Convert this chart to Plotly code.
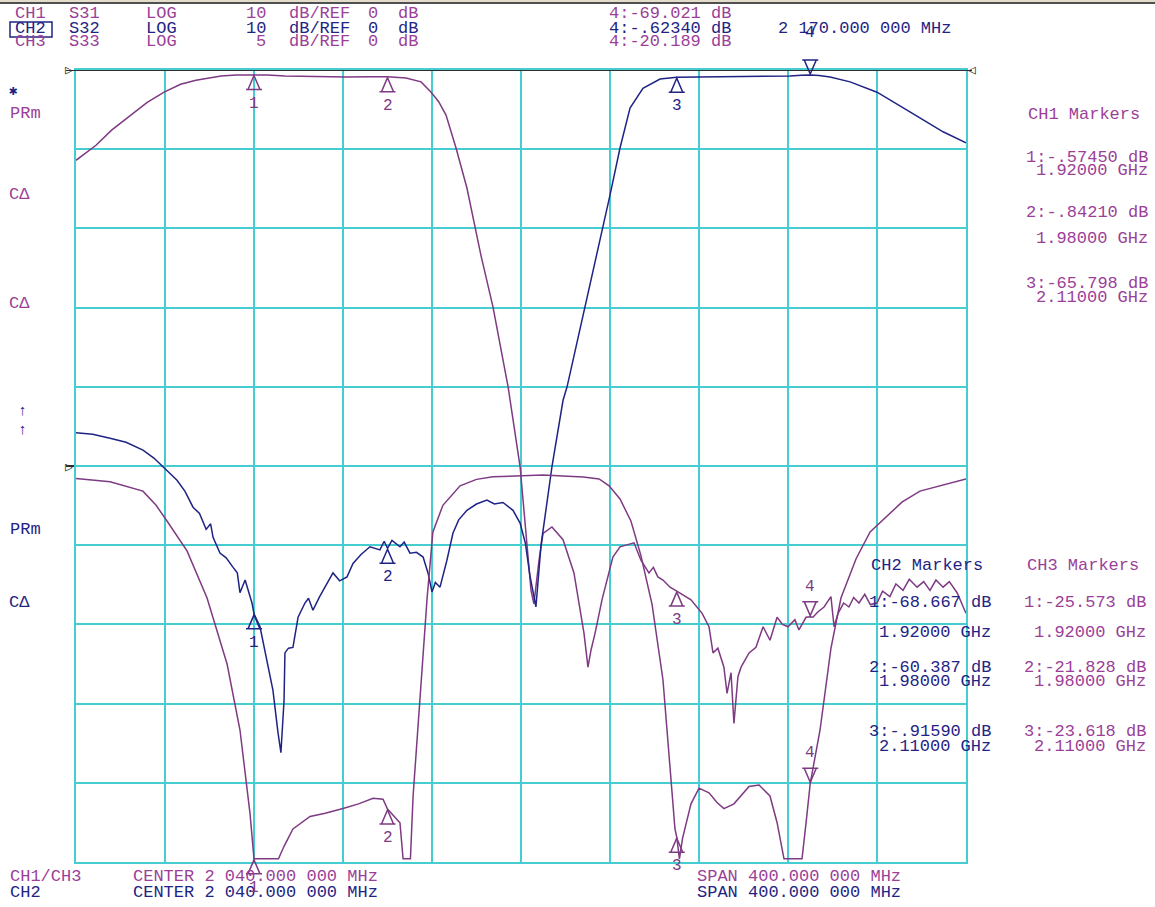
import plotly.graph_objects as go

# ---------------------------------------------------------------------------
# Sweep settings (all channels share the same sweep)
# ---------------------------------------------------------------------------
F_CENTER = 2040.0          # MHz
F_SPAN = 400.0             # MHz
F_START = F_CENTER - F_SPAN / 2
F_STOP = F_CENTER + F_SPAN / 2

# ---------------------------------------------------------------------------
# CH1 : S31, LOG 10 dB/div, REF 0 dB on the top graticule line
# ---------------------------------------------------------------------------
ch1_freq = [1840.0, 1849.0, 1856.0, 1864.7, 1872.0, 1879.6, 1887.0, 1893.9, 1905.2, 1912.0,
            1920.0, 1926.0, 1933.9, 1945.0, 1961.3, 1972.0, 1980.0, 1988.3, 1995.1, 1999.6,
            2003.0, 2006.3, 2010.8, 2015.7, 2022.0, 2027.4, 2034.2, 2039.6, 2040.9, 2042.7,
            2044.5, 2045.8, 2048.1, 2049.9, 2053.9, 2058.9, 2063.8, 2068.3, 2070.1, 2071.5,
            2073.3, 2076.4, 2081.3, 2084.5, 2087.5, 2090.8, 2093.9, 2097.5, 2099.5, 2101.5,
            2103.8, 2107.0, 2110.0, 2113.0, 2116.4, 2121.4, 2124.5, 2126.3, 2128.5, 2131.2,
            2132.6, 2134.4, 2135.7, 2137.5, 2138.9, 2142.5, 2145.6, 2148.8, 2151.9, 2155.1,
            2157.5, 2160.0, 2163.1, 2164.9, 2168.1, 2170.0, 2171.2, 2173.5, 2176.2, 2179.3,
            2180.7, 2182.5, 2185.0, 2187.4, 2189.5, 2191.9, 2194.5, 2197.0, 2200.0, 2202.5,
            2205.8, 2208.5, 2211.7, 2214.5, 2218.0, 2221.0, 2223.8, 2226.5, 2229.7, 2232.5,
            2236.0, 2240.0]
ch1_db = [-11.4, -9.5, -7.6, -5.7, -4.1, -2.8, -1.8, -1.3, -0.76, -0.62,
          -0.5745, -0.62, -0.76, -0.82, -0.88, -0.86, -0.8421, -1.0, -1.5, -2.8,
          -4.0, -5.7, -9.85, -14.9, -23.4, -29.9, -40.0, -50.1, -54.3, -60.6,
          -65.7, -67.4, -61.9, -58.5, -57.7, -59.3, -63.5, -71.1, -75.4, -73.2,
          -71.1, -66.9, -61.5, -60.2, -60.0, -59.7, -61.9, -63.5, -62.8, -64.0,
          -64.4, -65.3, -65.798, -66.3, -66.9, -68.6, -70.3, -73.6, -73.0, -75.4,
          -78.7, -76.1, -82.5, -76.6, -75.4, -73.6, -72.9, -70.3, -72.0, -69.1,
          -70.0, -70.3, -69.4, -70.7, -69.1, -69.021, -69.1, -68.4, -67.8, -66.5,
          -70.3, -68.6, -67.3, -67.8, -66.6, -67.3, -66.2, -67.5, -67.3, -65.8,
          -66.5, -64.9, -65.7, -64.3, -65.3, -64.6, -65.7, -64.4, -65.3, -64.6,
          -66.0, -68.6]

# ---------------------------------------------------------------------------
# CH2 : S32, LOG 10 dB/div, REF 0 dB on the top graticule line
# ---------------------------------------------------------------------------
ch2_freq = [1840.0, 1847.5, 1855.3, 1862.5, 1870.1, 1875.0, 1879.1, 1885.4, 1889.0, 1892.6,
            1895.5, 1898.5, 1900.5, 1901.6, 1904.7, 1907.5, 1910.6, 1912.5, 1913.7, 1916.0,
            1919.1, 1920.0, 1922.7, 1925.8, 1928.5, 1930.8, 1932.1, 1933.5, 1933.9, 1935.5,
            1937.5, 1939.8, 1942.9, 1944.5, 1946.5, 1949.5, 1952.8, 1955.5, 1958.5, 1961.8,
            1964.5, 1968.0, 1972.1, 1976.6, 1978.5, 1980.0, 1982.0, 1985.6, 1987.5, 1990.1,
            1993.0, 1996.0, 1998.2, 2000.0, 2001.5, 2003.6, 2006.7, 2009.4, 2012.0, 2015.7,
            2020.0, 2024.7, 2028.0, 2031.9, 2036.4, 2039.6, 2042.0, 2044.0, 2046.7, 2049.0,
            2053.9, 2058.9, 2060.7, 2068.8, 2074.2, 2080.0, 2084.5, 2089.0, 2094.8, 2102.5,
            2110.0, 2120.4, 2135.3, 2150.0, 2160.9, 2166.0, 2170.0, 2174.0, 2178.9, 2187.9,
            2200.0, 2214.8, 2229.7, 2240.0]
ch2_db = [-45.8, -46.0, -46.5, -47.0, -48.0, -49.0, -50.1, -51.8, -53.2, -55.2,
          -56.0, -58.0, -57.3, -59.0, -61.0, -61.6, -62.8, -63.5, -66.0, -64.4,
          -67.3, -68.667, -70.3, -74.5, -78.3, -83.7, -86.2, -79.6, -73.6, -73.0,
          -72.9, -69.1, -67.3, -66.7, -68.2, -66.5, -64.8, -63.5, -64.5, -64.0,
          -62.3, -61.2, -60.2, -60.6, -59.5, -60.387, -59.4, -60.2, -59.6, -61.0,
          -60.9, -61.5, -63.5, -65.9, -64.7, -65.3, -61.9, -58.5, -56.8, -55.6,
          -54.8, -54.3, -54.8, -54.6, -55.6, -57.2, -59.8, -63.8, -67.8, -60.0,
          -50.1, -41.7, -40.0, -29.9, -23.4, -15.8, -9.85, -4.8, -2.3, -1.14,
          -0.9159, -0.88, -0.88, -0.82, -0.76, -0.66, -0.6234, -0.70, -0.88, -1.5,
          -2.8, -5.3, -7.8, -9.2]

# ---------------------------------------------------------------------------
# CH3 : S33, LOG 5 dB/div, REF 0 dB on the centre graticule line
# ---------------------------------------------------------------------------
ch3_freq = [1840.0, 1855.3, 1870.1, 1876.0, 1880.9, 1889.9, 1898.9, 1907.9, 1913.7, 1918.2,
            1920.0, 1923.0, 1927.0, 1931.0, 1933.5, 1937.5, 1945.2, 1952.0, 1960.0, 1967.0,
            1973.5, 1978.0, 1980.0, 1983.5, 1985.6, 1987.0, 1988.5, 1990.3, 1991.5, 1994.6,
            1997.8, 2000.4, 2004.9, 2012.6, 2020.0, 2027.4, 2039.6, 2050.0, 2058.9, 2068.0,
            2075.1, 2079.6, 2084.5, 2089.4, 2093.9, 2098.9, 2103.8, 2107.0, 2109.2, 2110.0,
            2111.2, 2112.6, 2116.4, 2120.0, 2124.5, 2128.0, 2131.2, 2135.7, 2142.5, 2147.0,
            2151.9, 2155.1, 2158.2, 2160.0, 2163.0, 2166.3, 2168.2, 2170.0, 2174.4, 2179.3,
            2183.8, 2190.6, 2196.9, 2203.1, 2211.2, 2219.3, 2228.8, 2240.0]
ch3_db = [-0.8, -1.0, -1.6, -2.5, -3.5, -5.4, -8.4, -12.6, -16.8, -22.1,
          -25.573, -27.0, -27.5, -25.9, -24.2, -23.1, -22.3, -22.1, -21.8, -21.5,
          -21.15, -21.2, -21.828, -22.4, -22.7, -25.6, -26.5, -25.6, -21.0, -14.7,
          -8.4, -4.2, -2.5, -1.26, -0.85, -0.69, -0.63, -0.57, -0.63, -0.70,
          -0.82, -1.26, -2.1, -3.5, -5.7, -8.8, -13.6, -18.9, -23.1, -23.618,
          -25.6, -23.7, -21.5, -20.5, -20.8, -21.4, -21.8, -21.5, -20.4, -20.3,
          -21.0, -22.7, -25.3, -26.5, -27.0, -25.4, -22.6, -20.189, -16.8, -11.6,
          -8.4, -5.9, -4.2, -3.35, -2.3, -1.6, -1.26, -0.82]

# ---------------------------------------------------------------------------
# Markers (same frequencies on every channel)
# ---------------------------------------------------------------------------
marker_freq = [1920.0, 1980.0, 2110.0, 2170.0]
ch1_marker_db = [-0.5745, -0.8421, -65.798, -69.021]
ch2_marker_db = [-68.667, -60.387, -0.9159, -0.6234]
ch3_marker_db = [-25.573, -21.828, -23.618, -20.189]

# Vertical scales: 10 dB/div for CH1/CH2 (ref at top), 5 dB/div for CH3 (ref at centre)
Y12_RANGE = [-100.0, 0.0]
CH3_HALF = 25.0
Y3_RANGE = [-CH3_HALF - 0.2, CH3_HALF + 0.2]

# ---------------------------------------------------------------------------
# Styling
# ---------------------------------------------------------------------------
W, H = 1155, 907
L, R, T, B = 76, 189, 70, 45          # graticule box inside the page
PW, PH = W - L - R, H - T - B

MONO = "Liberation Mono, DejaVu Sans Mono, monospace"
FS = 17
MAG_TRACE = "#7e3a82"
MAG_TEXT = "#9b3f98"
NAVY = "#1f2484"
GRID = "#45cdd1"
REFLINE = "#2e2e2e"


def pxx(x):
    return (x - L) / PW


def pxy(y):
    return (H - B - y) / PH


def clip3(v):
    return max(-CH3_HALF, min(CH3_HALF, v))


def yfrac(v, rng):
    # position of a level on a channel's vertical scale, as a fraction of the graticule
    return (v - rng[0]) / (rng[1] - rng[0])


def fmt_db(v):
    if abs(v) < 1:
        s = f"{v:.5f}".replace("0.", ".", 1)
    else:
        s = f"{v:.3f}"
    return s + " dB"


def fmt_ghz(f):
    return f"{f / 1000:.5f} GHz"


fig = go.Figure()

fig.add_trace(go.Scatter(x=ch1_freq, y=ch1_db, mode="lines", yaxis="y",
                         line=dict(color=MAG_TRACE, width=1.5), name="S31"))
fig.add_trace(go.Scatter(x=ch2_freq, y=ch2_db, mode="lines", yaxis="y",
                         line=dict(color=NAVY, width=1.5), name="S32"))
fig.add_trace(go.Scatter(x=ch3_freq, y=[clip3(v) for v in ch3_db], mode="lines", yaxis="y2",
                         line=dict(color=MAG_TRACE, width=1.5), name="S33"))

ann = []
shapes = []


def text(s, x, y, color, size=FS, anchor="center"):
    ann.append(dict(text=s, x=pxx(x), y=pxy(y), xref="paper", yref="paper",
                    xanchor=anchor, yanchor="middle", showarrow=False,
                    font=dict(family=MONO, size=size, color=color)))


# --- header -----------------------------------------------------------------
rows = [("CH1", "S31", "10", MAG_TEXT, 14),
        ("CH2", "S32", "10", NAVY, 28),
        ("CH3", "S33", "5", MAG_TEXT, 41)]
for ch, sp, scale, col, yy in rows:
    text(ch, 30, yy, col)
    text(sp, 84, yy, col)
    text("LOG", 161, yy, col)
    text(scale, 268, yy, col, anchor="right")
    text("dB/REF", 319, yy, col)
    text("0", 373, yy, col)
    text("dB", 408, yy, col)

text("4:" + fmt_db(ch1_marker_db[3]), 670, 14, MAG_TEXT)
text("4:" + fmt_db(ch2_marker_db[3]), 670, 28, NAVY)
text("4:" + fmt_db(ch3_marker_db[3]), 670, 41, MAG_TEXT)
text("2 170.000 000 MHz", 864, 28, NAVY)

# --- left-hand softkey annotations -------------------------------------------
text("✱", 13, 91, NAVY, size=14)
text("PRm", 25, 113, MAG_TEXT)
text("C\u0394", 19, 194, MAG_TEXT)
text("C\u0394", 19, 303, MAG_TEXT)
text("↑", 22, 412, NAVY, size=15)
text("↑", 22, 430, NAVY, size=15)
text("PRm", 25, 529, NAVY)
text("C\u0394", 19, 602, NAVY)

# --- marker tables ------------------------------------------------------------
text("CH1 Markers", 1084, 115, MAG_TEXT)
ch1_rows = [157, 170, 212, 239, 283, 297]
for i in range(3):
    text(f"{i + 1}:" + fmt_db(ch1_marker_db[i]), 1150, ch1_rows[2 * i], MAG_TEXT, anchor="right")
    text(fmt_ghz(marker_freq[i]), 1150, ch1_rows[2 * i + 1], MAG_TEXT, anchor="right")

text("CH2 Markers", 927, 565, NAVY)
text("CH3 Markers", 1083, 565, MAG_TEXT)
tab_rows = [602, 632, 667, 681, 731, 746]
for i in range(3):
    text(f"{i + 1}:" + fmt_db(ch2_marker_db[i]), 993, tab_rows[2 * i], NAVY, anchor="right")
    text(fmt_ghz(marker_freq[i]), 993, tab_rows[2 * i + 1], NAVY, anchor="right")
    text(f"{i + 1}:" + fmt_db(ch3_marker_db[i]), 1148, tab_rows[2 * i], MAG_TEXT, anchor="right")
    text(fmt_ghz(marker_freq[i]), 1148, tab_rows[2 * i + 1], MAG_TEXT, anchor="right")

# --- footer -------------------------------------------------------------------
centre_txt = "CENTER 2 {:03.0f}.000 000 MHz".format(F_CENTER - 2000)
span_txt = "SPAN {:.0f}.000 000 MHz".format(F_SPAN)
text("CH1/CH3", 8, 876, MAG_TEXT, anchor="left")
text(centre_txt, 255, 876, MAG_TEXT)
text(span_txt, 799, 876, MAG_TEXT)
text("CH2", 8, 892, NAVY, anchor="left")
text(centre_txt, 255, 892, NAVY)
text(span_txt, 799, 892, NAVY)

# --- reference pointers -------------------------------------------------------
text("▷", 69, 70, REFLINE, size=13)
text("◁", 972, 70, REFLINE, size=13)
text("▷", 69, 467, REFLINE, size=13)


# --- trace markers: open triangle pointing at the trace, number beside it ----
# Drawn against the paper so that markers sitting on the graticule edge are not clipped.
def trace_marker(f, v, n, color, rng, down=False, label_shift=None):
    yv = yfrac(v, rng)
    if down:
        path = "M0,1 L-6,15 L6,15 Z M-8,15 L8,15"
        shift = 30 if label_shift is None else label_shift
    else:
        path = "M0,-1 L-6,-15 L6,-15 Z M-8,-15 L8,-15"
        shift = -29 if label_shift is None else label_shift
    shapes.append(dict(type="path", xref="x", yref="paper",
                       xsizemode="pixel", ysizemode="pixel", xanchor=f, yanchor=yv,
                       path=path, line=dict(color=color, width=1.5), layer="above"))
    ann.append(dict(text=str(n), x=f, y=yv, xref="x", yref="paper",
                    xanchor="center", yanchor="middle", yshift=shift, showarrow=False,
                    font=dict(family=MONO, size=16, color=color)))


for i in range(4):
    trace_marker(marker_freq[i], ch1_marker_db[i], i + 1, MAG_TRACE, Y12_RANGE, down=(i == 3))
    trace_marker(marker_freq[i], ch2_marker_db[i], i + 1, NAVY, Y12_RANGE, down=(i == 3),
                 label_shift=(42 if i == 3 else None))
    trace_marker(marker_freq[i], clip3(ch3_marker_db[i]), i + 1, MAG_TRACE, Y3_RANGE,
                 down=(i == 3))

# ---------------------------------------------------------------------------
# Shapes: reference lines, active-channel box, window frame
# ---------------------------------------------------------------------------
shapes += [
    dict(type="line", xref="paper", yref="y", x0=pxx(66), x1=pxx(972), y0=0, y1=0,
         line=dict(color=REFLINE, width=2), layer="above"),
    dict(type="line", xref="paper", yref="y2", x0=pxx(66), x1=1, y0=0, y1=0,
         line=dict(color=REFLINE, width=2), layer="between"),
    dict(type="rect", xref="paper", yref="paper", x0=pxx(10), x1=pxx(52), y0=pxy(22), y1=pxy(37),
         line=dict(color=NAVY, width=1.5)),
    dict(type="rect", xref="paper", yref="paper", x0=pxx(0), x1=pxx(W), y0=pxy(0), y1=pxy(2),
         line=dict(width=0), fillcolor="#e4dccb"),
    dict(type="line", xref="paper", yref="paper", x0=pxx(0), x1=pxx(W), y0=pxy(3), y1=pxy(3),
         line=dict(color="#505050", width=2)),
]

fig.update_layout(
    width=W, height=H, autosize=False,
    margin=dict(l=L, r=R, t=T, b=B, pad=0),
    paper_bgcolor="white", plot_bgcolor="white",
    showlegend=False,
    font=dict(family=MONO, size=FS),
    xaxis=dict(range=[F_START, F_STOP], tick0=F_START, dtick=F_SPAN / 10,
               showgrid=True, gridcolor=GRID, gridwidth=2,
               showline=True, linecolor=GRID, linewidth=2, mirror=True,
               zeroline=False, showticklabels=False, ticks=""),
    yaxis=dict(range=Y12_RANGE, tick0=0, dtick=10,
               showgrid=True, gridcolor=GRID, gridwidth=2,
               showline=True, linecolor=GRID, linewidth=2, mirror=True,
               zeroline=False, showticklabels=False, ticks=""),
    yaxis2=dict(range=Y3_RANGE, overlaying="y",
                showgrid=False, zeroline=False, showticklabels=False, ticks="",
                showline=False),
    annotations=ann,
    shapes=shapes,
)

fig.write_html("out.html")
